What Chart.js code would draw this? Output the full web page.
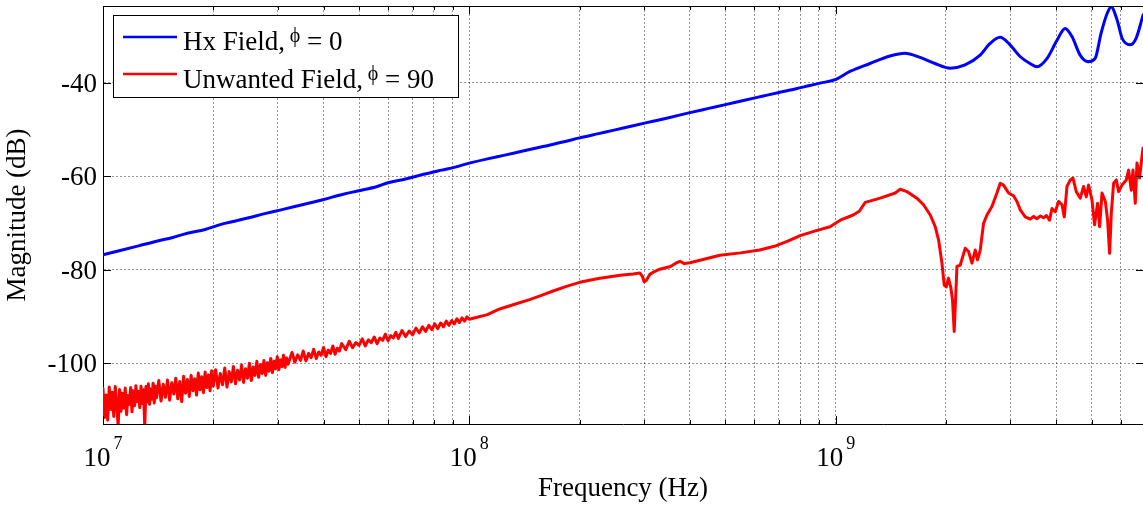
<!DOCTYPE html>
<html>
<head>
<meta charset="utf-8">
<script src="https://cdn.jsdelivr.net/npm/chart.js@4.4.1/dist/chart.umd.min.js"></script>
<style>
  html, body { margin: 0; padding: 0; background: #fff; }
</style>
</head>
<body>
<canvas id="fieldChart" width="1143" height="506"></canvas>
<script>
// Hx field, phi = 0 : frequency (MHz) / magnitude (dB)
const hxFreqMHz = [10, 11, 12.5, 14, 15.5, 17, 19, 21, 23, 25, 28, 31, 35, 40, 45, 50, 56, 60, 67, 75,
    84, 92, 100, 112, 125, 140, 160, 180, 200, 225, 250, 280, 315, 350, 400, 450, 500, 560, 630, 700,
    780, 850, 906, 1002, 1094, 1241, 1407, 1546, 1699, 1867, 2052, 2255, 2479, 2639, 2810, 2992, 3186, 3393, 3545, 3776,
    4021, 4229, 4419, 4647, 4887, 5107, 5303, 5507, 5647, 5864, 6051, 6362, 6607, 6906];
const hxDb = [-76.8, -76.0, -74.9, -73.9, -73.1, -72.2, -71.4, -70.3, -69.6, -68.9, -67.9, -67.1, -66.1, -65.0, -63.9, -63.1, -62.2, -61.4, -60.6, -59.6,
    -58.7, -58.0, -57.2, -56.3, -55.5, -54.6, -53.6, -52.7, -51.8, -50.9, -50.1, -49.2, -48.3, -47.5, -46.4, -45.5, -44.7, -43.8, -42.9, -42.1,
    -41.3, -40.6, -40.1, -39.3, -37.6, -35.9, -34.3, -33.7, -34.6, -35.9, -36.9, -36.2, -34.1, -31.6, -30.3, -31.9, -34.4, -35.9, -36.6, -34.8,
    -30.9, -28.4, -30.2, -34.1, -35.5, -34.8, -29.4, -25.2, -23.8, -26.6, -30.5, -31.9, -30.5, -25.5];

// unwanted field, phi = 90 : frequency (MHz) / magnitude (dB)
const unwantedFreqMHz = [
    10.0, 10.1, 10.2, 10.3, 10.4, 10.5, 10.6, 10.7, 10.8, 10.9, 11.0, 11.1, 11.2, 11.3, 11.4, 11.5, 11.6, 11.7, 11.8, 11.9,
    12.0, 12.1, 12.2, 12.3, 12.4, 12.5, 12.6, 12.7, 12.8, 12.9, 13.0, 13.1, 13.2, 13.3, 13.4, 13.5, 13.6, 13.7, 13.8, 13.9, 14.0,
    14.2, 14.4, 14.6, 14.8, 15.0, 15.2, 15.4, 15.6, 15.8, 16.0, 16.2, 16.4, 16.6, 16.8, 17.0,
    17.2, 17.4, 17.6, 17.8, 18.0, 18.2, 18.4, 18.6, 18.8, 19.0, 19.2, 19.4, 19.6, 19.8, 20.0,
    20.3, 20.6, 20.9, 21.2, 21.5, 21.8, 22.1, 22.4, 22.7, 23.0, 23.3, 23.6, 23.9, 24.2, 24.5, 24.8, 25.1, 25.4, 25.7, 26.0,
    26.3, 26.6, 26.9, 27.2, 27.5, 27.8, 28.1, 28.4, 28.7, 29.0, 29.3, 29.6, 29.9, 30.2, 30.5, 30.8, 31.1, 31.4, 31.7, 32.0,
    32.8, 33.4, 34.0, 34.6, 35.2, 35.8, 36.4, 37.0, 37.6, 38.2, 38.8, 39.4, 40.0, 40.6, 41.2, 41.8, 42.4, 43.0, 43.6, 44.2, 44.8,
    46, 47, 48, 49, 50, 51, 52, 53, 54, 55, 56, 57, 58, 59, 60, 61, 62, 63, 64,
    65.5, 67, 68.5, 70, 71.5, 73, 74.5, 76, 77.5, 79, 80.5, 82, 83.5, 85, 86.5, 88, 89.5, 91, 92.5, 94, 95.5, 97, 98.5, 100,
    112, 121, 133, 146, 156, 170, 185, 200, 225, 258, 280, 292, 297, 300, 304, 311, 320, 331, 354, 366,
    376, 386, 400, 440, 483, 550, 620, 680, 740, 800, 880, 965,
    1029, 1116, 1160, 1204, 1323, 1454, 1500, 1565, 1666, 1737, 1812, 1869, 1909, 1950, 1978, 2003, 2032, 2063, 2084, 2106,
    2124, 2143, 2188, 2258, 2305, 2355, 2404, 2439, 2481, 2533, 2588, 2670, 2755, 2813, 2872, 2964, 3059, 3125, 3190, 3292,
    3397, 3470, 3543, 3620, 3694, 3760, 3835, 3894, 3976, 4059, 4147, 4207, 4279, 4369, 4443, 4536, 4652, 4750, 4831, 4901,
    5007, 5089, 5187, 5253, 5333, 5445, 5524, 5594, 5654, 5737, 5834, 5920, 6046, 6212, 6303, 6410, 6479, 6573, 6644, 6753,
    6839, 6900];
const unwantedDb = [
    -105.4, -111.6, -106.8, -112.2, -105.1, -109.9, -106.2, -111.4, -105.0, -108.7, -113.5, -105.6, -110.3, -106.4, -109.6, -105.3, -111.0, -106.9, -108.8, -105.2,
    -110.4, -105.9, -109.1, -104.8, -108.2, -106.0, -109.5, -104.9, -108.6, -105.7, -113.6, -105.0, -108.3, -104.4, -108.8, -105.5, -107.7, -104.3, -108.5, -104.9, -107.4,
    -103.7, -108.1, -104.5, -107.3, -103.6, -107.9, -104.2, -106.6, -103.2, -107.6, -103.9, -108.2, -102.8, -106.4, -103.5,
    -107.1, -102.6, -105.9, -103.3, -106.8, -102.1, -105.7, -102.9, -106.3, -101.9, -105.2, -102.5, -105.9, -101.6, -104.9,
    -101.4, -105.3, -102.2, -104.6, -101.0, -105.1, -101.8, -104.0, -100.7, -104.4, -101.5, -103.6, -100.4, -104.1, -101.2, -103.2, -100.0, -103.7, -100.8, -102.6,
    -99.6, -103.0, -100.3, -102.2, -99.4, -102.6, -99.9, -101.7, -99.0, -102.0, -99.6, -101.2, -98.6, -101.4, -99.3, -100.7, -98.3, -100.9, -98.9, -100.2,
    -97.7, -99.8, -98.2, -99.4, -97.4, -99.5, -97.9, -98.8, -97.0, -99.0, -97.6, -98.3, -96.6, -98.6, -97.2, -97.9, -96.3, -98.1, -96.8, -97.4, -95.8,
    -97.1, -95.3, -96.7, -95.6, -96.2, -94.8, -96.3, -95.0, -95.6, -94.4, -95.8, -94.6, -95.1, -93.8, -95.2, -94.1, -94.6, -93.4, -94.7,
    -93.0, -94.3, -93.1, -93.9, -92.5, -93.5, -92.2, -93.2, -91.9, -92.8, -91.6, -92.6, -91.4, -92.2, -91.0, -91.9, -90.9, -91.6, -90.5, -91.3, -90.3, -91.0, -90.1, -90.6,
    -89.6, -88.4, -87.4, -86.4, -85.6, -84.5, -83.5, -82.7, -81.9, -81.2, -80.9, -80.7, -81.5, -82.6, -82.3, -81.0, -80.4, -79.9, -79.3, -78.6,
    -78.2, -78.7, -78.5, -77.7, -76.9, -76.4, -75.8, -75.0, -73.9, -72.7, -71.7, -70.8,
    -69.4, -68.3, -67.5, -65.6, -64.7, -63.6, -62.8, -63.3, -64.7, -66.1, -68.3, -70.8, -73.6, -78.6, -83.3, -83.7, -81.8, -83.9, -86.5, -93.2,
    -86.5, -79.3, -79.0, -75.4, -76.1, -78.6, -75.8, -77.9, -75.8, -70.1, -68.3, -66.5, -63.6, -61.5, -61.9, -63.6, -64.2, -65.4, -67.2, -68.7,
    -69.2, -68.6, -69.1, -68.5, -68.9, -68.4, -69.4, -66.9, -67.6, -65.4, -66.1, -68.7, -62.2, -60.8, -60.4, -63.3, -64.7, -62.2, -64.4, -61.9,
    -65.1, -70.4, -65.8, -70.8, -63.6, -65.4, -69.4, -76.5, -67.9, -61.5, -60.8, -63.3, -61.9, -60.8, -58.7, -63.0, -58.7, -65.8, -57.2, -60.4,
    -56.5, -54.0];

// axis ticks and legend text
const yTicks = [-100, -80, -60, -40];
const xDecades = [1e7, 1e8, 1e9];
const xDecadeExponents = ['7', '8', '9'];
const xMin = 1e7;
const xMax = 6.9e9;
const yMin = -113;
const yMax = -23.6;
const seriesNames = ['Hx Field,', 'Unwanted Field,'];
const phiValues = ['0', '90'];

const SERIF = '"Liberation Serif", "Times New Roman", "DejaVu Serif", serif';
const GRID = 'rgba(0,0,0,0.42)';

// grid positions 1..9 x 10^n inside the axis range
const xGridValues = [];
xDecades.forEach(d => {
    for (let m = 1; m <= 9; m++) {
        if (d * m <= xMax) xGridValues.push(d * m);
    }
});

function isDecade(v) {
    const l = Math.log10(v);
    return Math.abs(l - Math.round(l)) < 1e-9;
}

function toPoints(freqs, values) {
    return freqs.map((f, i) => ({ x: f * 1e6, y: values[i] }));
}

// top border, inward tick marks, 10^n labels and the boxed legend
const frameAndLegend = {
    id: 'frameAndLegend',
    afterDraw(chart) {
        const { ctx, chartArea: a, scales: { x, y } } = chart;
        ctx.save();
        ctx.strokeStyle = '#000';
        ctx.lineWidth = 1;
        ctx.setLineDash([]);

        ctx.beginPath();
        ctx.moveTo(a.left, a.top + 0.5);
        ctx.lineTo(a.right, a.top + 0.5);
        ctx.stroke();

        ctx.beginPath();
        x.ticks.forEach(t => {
            const px = Math.round(x.getPixelForValue(t.value)) + 0.5;
            const len = isDecade(t.value) ? 8 : 4;
            ctx.moveTo(px, a.bottom);
            ctx.lineTo(px, a.bottom - len);
            ctx.moveTo(px, a.top);
            ctx.lineTo(px, a.top + len);
        });
        y.ticks.forEach(t => {
            const py = Math.round(y.getPixelForValue(t.value)) + 0.5;
            ctx.moveTo(a.left, py);
            ctx.lineTo(a.left + 8, py);
            ctx.moveTo(a.right, py);
            ctx.lineTo(a.right - 7, py);
        });
        ctx.stroke();

        // decade labels with raised exponent
        ctx.fillStyle = '#000';
        ctx.textBaseline = 'alphabetic';
        ctx.textAlign = 'left';
        xDecades.forEach((d, i) => {
            const px = x.getPixelForValue(d);
            ctx.font = '27px ' + SERIF;
            const wBase = ctx.measureText('10').width;
            ctx.font = '18px ' + SERIF;
            const wExp = ctx.measureText(xDecadeExponents[i]).width;
            const left = px - (wBase + 3 + wExp) / 2;
            ctx.font = '27px ' + SERIF;
            ctx.fillText('10', left, 466);
            ctx.font = '18px ' + SERIF;
            ctx.fillText(xDecadeExponents[i], left + wBase + 3, 449);
        });

        // legend
        const box = { x: 113.5, y: 15.5, w: 345, h: 82 };
        ctx.fillStyle = '#fff';
        ctx.fillRect(box.x, box.y, box.w, box.h);
        ctx.strokeStyle = '#000';
        ctx.lineWidth = 1;
        ctx.strokeRect(box.x, box.y, box.w, box.h);

        chart.data.datasets.forEach((ds, i) => {
            const rowY = 37 + i * 37;
            const base = 50 + i * 38;
            ctx.strokeStyle = ds.borderColor;
            ctx.lineWidth = 2.5;
            ctx.beginPath();
            ctx.moveTo(123, rowY);
            ctx.lineTo(177, rowY);
            ctx.stroke();

            ctx.fillStyle = '#000';
            ctx.font = '27px ' + SERIF;
            ctx.fillText(seriesNames[i], 183, base);
            let cx = 183 + ctx.measureText(seriesNames[i] + ' ').width - 2;
            ctx.font = '20px ' + SERIF;
            ctx.fillText('\u03D5', cx, base - 8);
            cx += ctx.measureText('\u03D5').width;
            ctx.font = '27px ' + SERIF;
            ctx.fillText(' = ' + phiValues[i], cx, base);
        });
        ctx.restore();
    }
};

const ctx = document.getElementById('fieldChart').getContext('2d');

new Chart(ctx, {
    type: 'line',
    data: {
        datasets: [
            {
                label: 'Hx Field, phi = 0',
                data: toPoints(hxFreqMHz, hxDb),
                borderColor: '#0000ff',
                borderWidth: 3,
                cubicInterpolationMode: 'monotone',
                clip: 0
            },
            {
                label: 'Unwanted Field, phi = 90',
                data: toPoints(unwantedFreqMHz, unwantedDb),
                borderColor: '#ff0000',
                borderWidth: 3,
                tension: 0,
                clip: 0
            }
        ]
    },
    options: {
        responsive: false,
        animation: false,
        parsing: false,
        layout: { padding: { top: 6, right: 0, bottom: 0, left: 0 } },
        elements: {
            point: { radius: 0 },
            line: { borderJoinStyle: 'round', borderCapStyle: 'round' }
        },
        plugins: {
            legend: { display: false },
            tooltip: { enabled: false }
        },
        scales: {
            x: {
                type: 'logarithmic',
                min: xMin,
                max: xMax,
                afterBuildTicks: s => { s.ticks = xGridValues.map(v => ({ value: v })); },
                afterFit: s => { s.height = 82; s.paddingLeft = 0; s.paddingRight = 0; },
                ticks: { display: false },
                grid: { color: GRID, lineWidth: 1, drawTicks: false },
                border: { display: true, color: '#000', width: 1, dash: [2, 2] },
                title: {
                    display: true,
                    text: 'Frequency (Hz)',
                    color: '#000',
                    font: { family: SERIF, size: 27 },
                    padding: { top: 0, bottom: 1 }
                }
            },
            y: {
                min: yMin,
                max: yMax,
                afterBuildTicks: s => { s.ticks = yTicks.map(v => ({ value: v })); },
                afterFit: s => { s.width = 103; s.paddingTop = 0; s.paddingBottom = 0; },
                ticks: {
                    color: '#000',
                    font: { family: SERIF, size: 27 },
                    padding: 6,
                    labelOffset: 2
                },
                grid: { color: GRID, lineWidth: 1, drawTicks: false },
                border: { display: true, color: '#000', width: 1, dash: [2, 2] },
                title: {
                    display: true,
                    text: 'Magnitude (dB)',
                    color: '#000',
                    font: { family: SERIF, size: 27 },
                    padding: { top: 2, bottom: 0 }
                }
            }
        }
    },
    plugins: [frameAndLegend]
});
</script>
</body>
</html>
